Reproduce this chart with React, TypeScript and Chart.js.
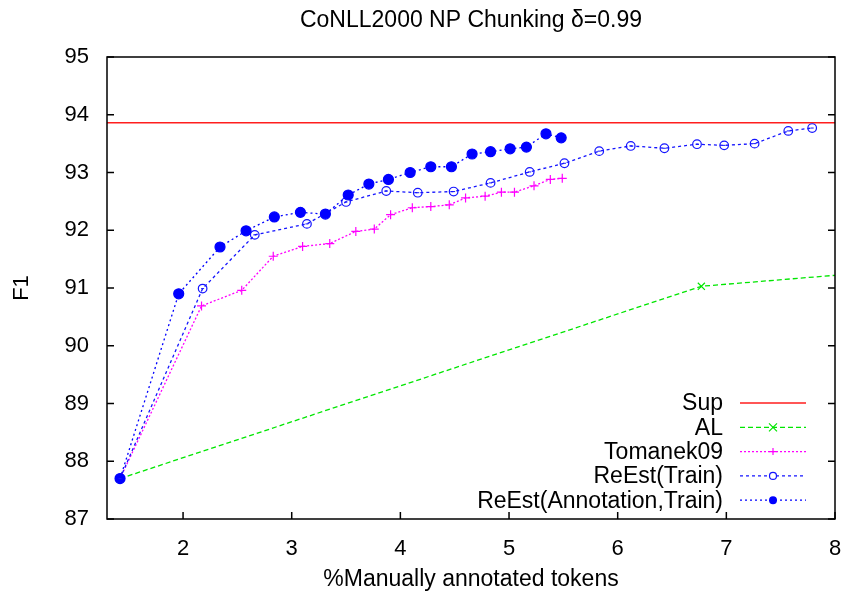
import React, { useEffect, useRef } from "react";
import { Chart, registerables } from "chart.js";

Chart.register(...registerables);

const TITLE = "CoNLL2000 NP Chunking δ=0.99";
const X_LABEL = "%Manually annotated tokens";
const Y_LABEL = "F1";
const X_TICKS = [2, 3, 4, 5, 6, 7, 8];
const X_MIN = 1.3;
const X_MAX = 8;
const Y_MIN = 87;
const Y_MAX = 95;

const SERIES_NAMES = ["Sup", "AL", "Tomanek09", "ReEst(Train)", "ReEst(Annotation,Train)"];

const SUP_X = [1.3, 8];
const SUP_Y = [93.86, 93.86];

const AL_X = [1.42, 6.77, 8.0];
const AL_Y = [87.7, 91.03, 91.22];

const TOM_X = [1.42, 2.17, 2.54, 2.83, 3.1, 3.35, 3.59, 3.76, 3.91, 4.11, 4.28, 4.45, 4.6, 4.78, 4.93, 5.05, 5.23, 5.38, 5.49];
const TOM_Y = [87.7, 90.69, 90.96, 91.55, 91.72, 91.77, 91.98, 92.02, 92.27, 92.39, 92.41, 92.44, 92.56, 92.59, 92.66, 92.66, 92.77, 92.88, 92.9];

const RT_X = [1.42, 2.18, 2.66, 3.14, 3.5, 3.87, 4.16, 4.49, 4.83, 5.19, 5.51, 5.83, 6.12, 6.43, 6.73, 6.98, 7.26, 7.57, 7.79];
const RT_Y = [87.7, 90.99, 91.92, 92.11, 92.49, 92.68, 92.65, 92.67, 92.82, 93.01, 93.16, 93.37, 93.46, 93.42, 93.49, 93.47, 93.5, 93.72, 93.77];

const RAT_X = [1.42, 1.96, 2.34, 2.58, 2.84, 3.08, 3.31, 3.52, 3.71, 3.89, 4.09, 4.28, 4.47, 4.66, 4.83, 5.01, 5.16, 5.34, 5.48];
const RAT_Y = [87.7, 90.9, 91.71, 91.99, 92.23, 92.31, 92.28, 92.61, 92.8, 92.88, 93.0, 93.1, 93.1, 93.32, 93.36, 93.41, 93.44, 93.67, 93.6];

const FONT = "'Liberation Sans', Arial, Helvetica, sans-serif";

const pts = (xs: number[], ys: number[]) => xs.map((x, i) => ({ x, y: ys[i] }));

const STYLES = [
  { color: "rgb(255,30,30)", dash: [] as number[], width: 1.5, pointStyle: false as any, radius: 0, fill: false },
  { color: "rgb(0,230,0)", dash: [5, 3], width: 1.3, pointStyle: "crossRot", radius: 5, fill: false },
  { color: "rgb(255,0,255)", dash: [2, 2], width: 1.3, pointStyle: "cross", radius: 4.5, fill: false },
  { color: "rgb(20,20,255)", dash: [3, 3], width: 1.3, pointStyle: "circle", radius: 4.3, fill: false },
  { color: "rgb(0,0,255)", dash: [2, 3], width: 1.3, pointStyle: "circle", radius: 5, fill: true },
];

const framePlugin = {
  id: "gnuframe",
  afterDraw(chart: any) {
    const { ctx, chartArea } = chart;
    const { left, right, top, bottom } = chartArea;
    const xs = chart.scales.x;
    const ys = chart.scales.y;
    ctx.save();

    // title, centred over the plot area
    ctx.fillStyle = "#000";
    ctx.font = `23px ${FONT}`;
    ctx.textAlign = "center";
    ctx.textBaseline = "middle";
    ctx.fillText(TITLE, (left + right) / 2, 21);

    ctx.strokeStyle = "#000";
    ctx.lineWidth = 1.5;
    ctx.setLineDash([]);
    ctx.strokeRect(left, top, right - left, bottom - top);
    ctx.beginPath();
    for (const v of X_TICKS) {
      const px = xs.getPixelForValue(v);
      ctx.moveTo(px, bottom);
      ctx.lineTo(px, bottom - 7);
    }
    for (let v = Y_MIN; v <= Y_MAX; v++) {
      const py = ys.getPixelForValue(v);
      ctx.moveTo(left, py);
      ctx.lineTo(left + 7, py);
      ctx.moveTo(right, py);
      ctx.lineTo(right - 7, py);
    }
    ctx.stroke();

    // centre marks on open circles
    const meta = chart.getDatasetMeta(3);
    ctx.fillStyle = STYLES[3].color;
    for (const el of meta.data) {
      ctx.fillRect(el.x - 1.5, el.y - 0.5, 3, 1);
    }

    // legend (gnuplot style)
    ctx.font = `23px ${FONT}`;
    ctx.textAlign = "right";
    ctx.textBaseline = "middle";
    const textRight = 723;
    const lx0 = 740;
    const lx1 = 806;
    const mx = 773;
    const rowY0 = 403;
    const rowH = 24.3;
    SERIES_NAMES.forEach((name, i) => {
      const y = rowY0 + i * rowH;
      const s = STYLES[i];
      ctx.fillStyle = "#000";
      ctx.fillText(name, textRight, y + 1);
      ctx.strokeStyle = s.color;
      ctx.lineWidth = s.width;
      ctx.setLineDash(s.dash);
      ctx.beginPath();
      ctx.moveTo(lx0, y);
      ctx.lineTo(lx1, y);
      ctx.stroke();
      ctx.setLineDash([]);
      if (s.pointStyle) {
        ctx.lineWidth = 1.2;
        const r = i === 3 ? 3.5 : i === 4 ? 4 : s.radius - 1;
        ctx.beginPath();
        if (s.pointStyle === "crossRot") {
          ctx.moveTo(mx - r, y - r);
          ctx.lineTo(mx + r, y + r);
          ctx.moveTo(mx + r, y - r);
          ctx.lineTo(mx - r, y + r);
          ctx.stroke();
        } else if (s.pointStyle === "cross") {
          ctx.moveTo(mx - r, y);
          ctx.lineTo(mx + r, y);
          ctx.moveTo(mx, y - r);
          ctx.lineTo(mx, y + r);
          ctx.stroke();
        } else {
          ctx.arc(mx, y, r, 0, Math.PI * 2);
          if (s.fill) {
            ctx.fillStyle = s.color;
            ctx.fill();
          } else {
            ctx.fillStyle = "#fff";
            ctx.fill();
            ctx.stroke();
          }
        }
      }
    });
    ctx.restore();
  },
};

export default function App() {
  const ref = useRef<HTMLCanvasElement | null>(null);
  useEffect(() => {
    if (!ref.current) return;
    const dataSets = [
      pts(SUP_X, SUP_Y),
      pts(AL_X, AL_Y),
      pts(TOM_X, TOM_Y),
      pts(RT_X, RT_Y),
      pts(RAT_X, RAT_Y),
    ];
    const chart = new Chart(ref.current, {
      type: "line",
      data: {
        datasets: dataSets.map((d, i) => {
          const s = STYLES[i];
          const radius = i === 1 ? d.map((_, j) => (j === d.length - 1 ? 0 : s.radius)) : s.radius;
          return {
            label: SERIES_NAMES[i],
            data: d,
            borderColor: s.color,
            backgroundColor: s.fill ? s.color : "rgba(255,255,255,0)",
            borderWidth: s.width,
            borderDash: s.dash,
            pointStyle: s.pointStyle,
            pointRadius: radius,
            pointBorderColor: s.color,
            pointBackgroundColor: s.fill ? s.color : "rgba(255,255,255,0)",
            pointBorderWidth: 1.2,
            tension: 0,
            fill: false,
            order: 5 - i,
          } as any;
        }),
      },
      options: {
        responsive: false,
        animation: false,
        events: [],
        layout: { autoPadding: false, padding: { left: 0, right: 0, top: 57, bottom: 0 } },
        scales: {
          x: {
            type: "linear",
            min: X_MIN,
            max: X_MAX,
            afterBuildTicks: (s: any) => {
              s.ticks = X_TICKS.map((v) => ({ value: v }));
            },
            afterFit: (s: any) => {
              s.height = 74;
              s.paddingLeft = 0;
              s.paddingRight = 10;
            },
            grid: { display: false, drawTicks: false },
            border: { display: false },
            ticks: {
              color: "#000",
              font: { family: FONT, size: 22 },
              padding: 17,
              maxRotation: 0,
              autoSkip: false,
            },
            title: {
              display: true,
              text: X_LABEL,
              color: "#000",
              font: { family: FONT, size: 23 },
              padding: { top: 0, bottom: 0 },
            },
          },
          y: {
            type: "linear",
            min: Y_MIN,
            max: Y_MAX,
            afterFit: (s: any) => {
              s.width = 107;
            },
            grid: { display: false, drawTicks: false },
            border: { display: false },
            ticks: {
              stepSize: 1,
              color: "#000",
              font: { family: FONT, size: 22 },
              padding: 18,
            },
            title: {
              display: true,
              text: Y_LABEL,
              color: "#000",
              font: { family: FONT, size: 22 },
              padding: { top: 9, bottom: 0 },
            },
          },
        },
        plugins: {
          legend: { display: false },
          tooltip: { enabled: false },
          title: { display: false },
        },
      },
      plugins: [framePlugin],
    });
    return () => chart.destroy();
  }, []);
  return (
    <div style={{ position: "fixed", left: 0, top: 0, width: 845, height: 593, background: "#fff" }}>
      <canvas ref={ref} width={845} height={593} style={{ display: "block" }} />
    </div>
  );
}
